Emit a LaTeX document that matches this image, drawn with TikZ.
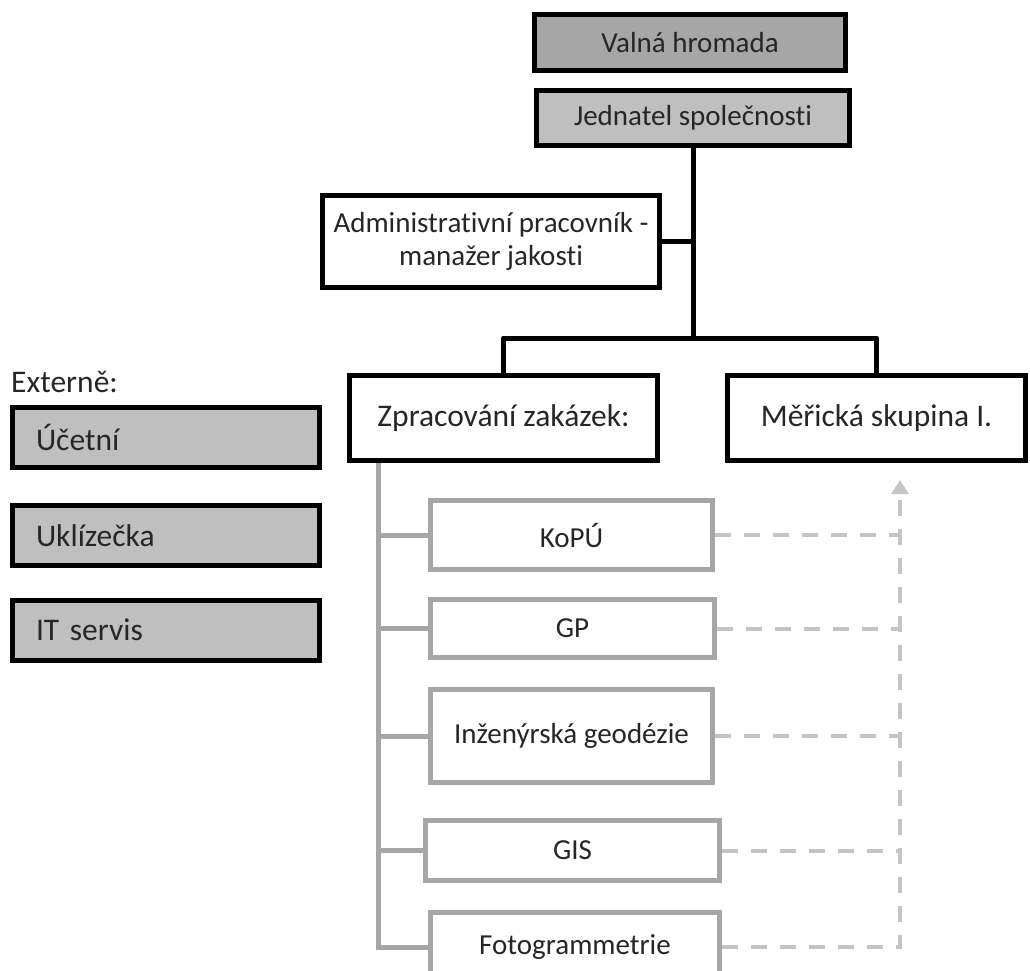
\documentclass[tikz,border=0pt]{standalone}
\usepackage{fontspec}
\setmainfont{Carlito}[Ligatures=NoCommon]
\usetikzlibrary{arrows.meta}

\definecolor{darkfill}{HTML}{A6A6A6}
\definecolor{lightfill}{HTML}{BFBFBF}
\definecolor{treegray}{HTML}{A6A6A6}
\definecolor{dashgray}{HTML}{C4C4C4}

\tikzset{
  topbox/.style={draw=black, line width=5pt, text=black!85,
    font=\fontsize{29}{33}\selectfont, inner sep=0pt},
  unitbox/.style={draw=black, line width=5pt, fill=white, text=black!85,
    font=\fontsize{31.5}{36}\selectfont, inner sep=0pt},
  extbox/.style={draw=black, line width=5pt, fill=lightfill, text=black!85,
    font=\fontsize{31.5}{36}\selectfont, inner xsep=23.5pt, inner ysep=0pt,
    text width=260pt, align=left, minimum height=60pt},
  subbox/.style={draw=treegray, line width=5pt, fill=white, text=black!85,
    font=\fontsize{29}{33}\selectfont, inner sep=0pt},
  orgline/.style={draw=black, line width=5pt},
  treeline/.style={draw=treegray, line width=5pt},
  linkline/.style={draw=dashgray, line width=4pt, dash pattern=on 16pt off 13pt}
}

\begin{document}
\begin{tikzpicture}[x=1pt,y=-1pt]
          \useasboundingbox (0,0) rectangle (1030,971);

          \node (vh)  [topbox, fill=darkfill, minimum width=311pt, minimum height=56pt] at (690,42.5)  {Valná hromada};
          \node (jed) [topbox, fill=lightfill, minimum width=313pt, minimum height=55pt] at (693,118)   {Jednatel společnosti};
          \node (adm) [topbox, fill=white, minimum width=337pt, minimum height=92pt, align=center] at (491,241.5)
                      {Administrativní pracovník -\\manažer jakosti};
          \node (zpr) [unitbox, minimum width=308pt, minimum height=85pt] at (503.5,418) {Zpracování zakázek:};
          \node (mer) [unitbox, minimum width=298pt, minimum height=85pt] at (876.5,418) {Měřická skupina I.};

          \node (ext) [anchor=west, text=black!85, font=\fontsize{31.5}{36}\selectfont, inner sep=0pt] at (11,382) {Externě:};
          \node (uct) [extbox] at (166,437.5) {Účetní};
          \node (ukl) [extbox] at (166,535.5) {Uklízečka};
          \node (its) [extbox] at (166,630)   {IT servis};

          \node (kopu) [subbox, minimum width=282pt, minimum height=69pt] at (571.5,535)   {KoPÚ};
          \node (gp)   [subbox, minimum width=284pt, minimum height=58pt] at (572.5,628.5) {GP};
          \node (inz)  [subbox, minimum width=282pt, minimum height=93pt] at (571.5,736)   {Inženýrská geodézie};
          \node (gis)  [subbox, minimum width=294pt, minimum height=60pt] at (572.5,850.5) {GIS};
          \node (foto) [subbox, minimum width=289pt, minimum height=70pt] at (575,947)     {Fotogrammetrie};

          \coordinate (hub)   at (692,338);
          \coordinate (trunk) at (378,463);
          \coordinate (tip)   at (900,480);

          \draw [orgline] (jed.south) -- (jed.south |- hub);
          \draw [orgline] (adm.east) -- (adm.east -| jed.south);
          \draw [orgline, line join=round] (zpr.north) |- (hub) -| (mer.north);

          \draw [treeline] (trunk) |- (foto.west);
          \foreach \sub in {kopu,gp,inz,gis}
            \draw [treeline] (trunk |- \sub.west) -- (\sub.west);

          \draw [linkline, -{Triangle[length=14pt,width=17pt]}] (foto.east) -| (tip);
          \foreach \sub in {kopu,gp,inz,gis}
            \draw [linkline] (\sub.east) -- (\sub.east -| tip);
        \end{tikzpicture}
\end{document}
